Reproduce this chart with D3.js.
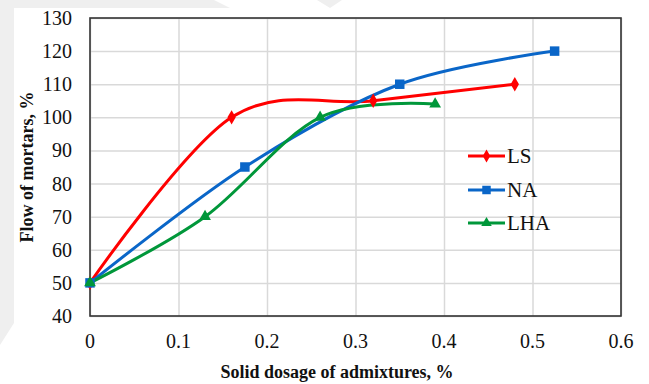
<!DOCTYPE html>
<html>
<head>
<meta charset="utf-8">
<script src="https://cdn.jsdelivr.net/npm/d3@7"></script>
<style>
  body { margin: 0; background: #fff; }
  svg { display: block; }
</style>
</head>
<body>
<div id="chart"></div>
<script>
// flow of mortars vs solid dosage of admixtures
var width = 649;
var height = 384;

var xTicks = [0, 0.1, 0.2, 0.3, 0.4, 0.5, 0.6];
var yTicks = [40, 50, 60, 70, 80, 90, 100, 110, 120, 130];

var seriesNames = ["LS", "NA", "LHA"];
var lsX = [0, 0.16, 0.32, 0.48];
var lsY = [50, 100, 105, 110];
var naX = [0, 0.175, 0.35, 0.525];
var naY = [50, 85, 110, 120];
var lhaX = [0, 0.13, 0.26, 0.39];
var lhaY = [50, 70, 100, 104];

var colors = ["#ff0000", "#0a66c8", "#00973a"];
var shapes = [d3.symbolDiamond, d3.symbolSquare, d3.symbolTriangle];
var shapeSizes = [60, 90, 60];

var pLeft = 90, pRight = 621, pTop = 18, pBottom = 316;
var serif = "Liberation Serif";

var svg = d3.select("#chart")
  .append("svg")
  .attr("width", width)
  .attr("height", height);

// faint watermark shapes in the background
var wm = "#efefef";
svg.append("polygon")
  .attr("points", "0,0 214,0 230,8 14,8 14,323 0,345")
  .attr("fill", wm);
svg.append("polygon")
  .attr("points", "317,0 342,0 330,8")
  .attr("fill", wm);

svg.append("rect")
  .attr("x", pLeft).attr("y", pTop)
  .attr("width", pRight - pLeft).attr("height", pBottom - pTop)
  .attr("fill", "#fff");

var x = d3.scaleLinear().domain([0, 0.6]).range([pLeft, pRight]);
var y = d3.scaleLinear().domain([40, 130]).range([pBottom, pTop]);

// gridlines
svg.append("g")
  .attr("transform", "translate(0," + pBottom + ")")
  .call(d3.axisBottom(x).tickValues(xTicks).tickSize(-(pBottom - pTop)).tickFormat(""))
  .call(g => g.select(".domain").remove())
  .call(g => g.selectAll("line").attr("stroke", "#d9d9d9").attr("stroke-width", 1.5));

svg.append("g")
  .attr("transform", "translate(" + pLeft + ",0)")
  .call(d3.axisLeft(y).tickValues(yTicks).tickSize(-(pRight - pLeft)).tickFormat(""))
  .call(g => g.select(".domain").remove())
  .call(g => g.selectAll("line").attr("stroke", "#d9d9d9").attr("stroke-width", 1.5));

svg.append("rect")
  .attr("x", pLeft).attr("y", pTop)
  .attr("width", pRight - pLeft).attr("height", pBottom - pTop)
  .attr("fill", "none")
  .attr("stroke", "#333")
  .attr("stroke-width", 1.6);

// tick labels, drawn as plain text so the serif font sticks
svg.append("g")
  .selectAll("text")
  .data(xTicks)
  .enter()
  .append("text")
  .attr("x", d => x(d))
  .attr("y", 348)
  .attr("text-anchor", "middle")
  .attr("font-family", serif)
  .attr("font-size", 20)
  .attr("fill", "#111")
  .text(d => d);

svg.append("g")
  .selectAll("text")
  .data(yTicks)
  .enter()
  .append("text")
  .attr("x", 72)
  .attr("y", d => y(d) + 7)
  .attr("text-anchor", "end")
  .attr("font-family", serif)
  .attr("font-size", 20)
  .attr("fill", "#111")
  .text(d => d);

// axis titles
svg.append("text")
  .attr("x", 337).attr("y", 378)
  .attr("text-anchor", "middle")
  .attr("font-family", serif)
  .attr("font-weight", "bold")
  .attr("font-size", 18)
  .attr("fill", "#111")
  .text("Solid dosage of admixtures, %");

svg.append("text")
  .attr("transform", "translate(33," + 167 + ") rotate(-90)")
  .attr("text-anchor", "middle")
  .attr("font-family", serif)
  .attr("font-weight", "bold")
  .attr("font-size", 18)
  .attr("fill", "#111")
  .text("Flow of mortars, %");

// series
var series = [
  { name: seriesNames[0], xs: lsX, ys: lsY },
  { name: seriesNames[1], xs: naX, ys: naY },
  { name: seriesNames[2], xs: lhaX, ys: lhaY }
];

var line = d3.line()
  .x(d => x(d[0]))
  .y(d => y(d[1]))
  .curve(d3.curveCardinal.tension(0));

series.forEach(function (s, i) {
  var pts = s.xs.map((v, j) => [v, s.ys[j]]);
  svg.append("path")
    .datum(pts)
    .attr("d", line)
    .attr("fill", "none")
    .attr("stroke", colors[i])
    .attr("stroke-width", 3);
});

series.forEach(function (s, i) {
  var pts = s.xs.map((v, j) => [v, s.ys[j]]);
  svg.selectAll(".m" + i)
    .data(pts)
    .enter()
    .append("path")
    .attr("d", d3.symbol().type(shapes[i]).size(shapeSizes[i]))
    .attr("transform", d => "translate(" + x(d[0]) + "," + y(d[1]) + ")")
    .attr("fill", colors[i]);
});

// legend
var legY = [156, 190, 223];
series.forEach(function (s, i) {
  var g = svg.append("g").attr("transform", "translate(468," + legY[i] + ")");
  g.append("line")
    .attr("x1", 0).attr("x2", 37)
    .attr("stroke", colors[i])
    .attr("stroke-width", 3);
  g.append("path")
    .attr("d", d3.symbol().type(shapes[i]).size(shapeSizes[i] * 0.8))
    .attr("transform", "translate(18.5,0)")
    .attr("fill", colors[i]);
  g.append("text")
    .attr("x", 39).attr("y", 7)
    .attr("font-family", serif)
    .attr("font-size", 21)
    .attr("fill", "#111")
    .text(s.name);
});
</script>
</body>
</html>
